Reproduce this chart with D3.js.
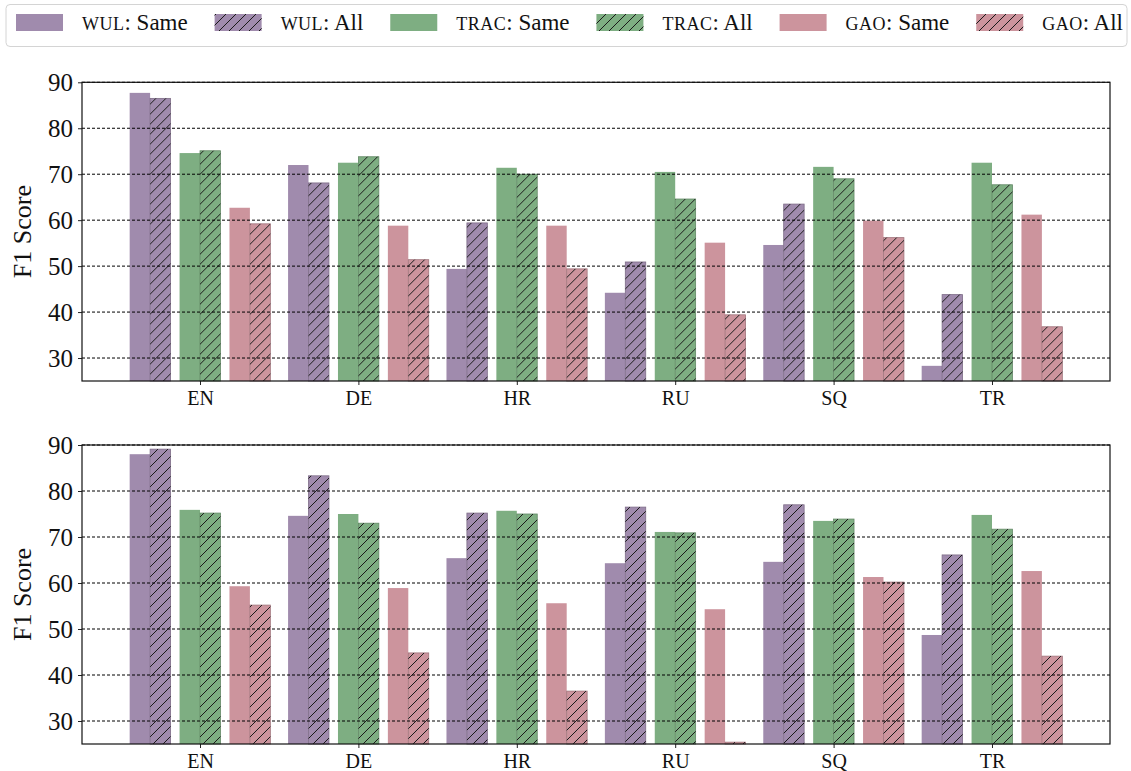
<!DOCTYPE html>
<meta charset="utf-8">
<style>
body { margin: 0; background: #fff; }
text { font-family: "Liberation Serif", serif; fill: #111; }
.axis path, .axis line { stroke: #222; }
.grid line { stroke: #000; stroke-dasharray: 3,2; stroke-width: 1; }
</style>
<svg width="1131" height="771"></svg>
<script src="https://d3js.org/d3.v7.min.js"></script>
<script>

// languages on the x axis
var languages = ["EN", "DE", "HR", "RU", "SQ", "TR"];
var yTicks = [30, 40, 50, 60, 70, 80, 90];

// upper panel
var wulSameTop   = [87.7, 72.0, 49.4, 44.2, 54.6, 28.3];
var wulAllTop    = [86.5, 68.1, 59.4, 50.9, 63.5, 43.8];
var tracSameTop  = [74.6, 72.5, 71.4, 70.5, 71.6, 72.5];
var tracAllTop   = [75.1, 73.8, 70.0, 64.6, 69.0, 67.7];
var gaoSameTop   = [62.7, 58.8, 58.8, 55.1, 59.9, 61.2];
var gaoAllTop    = [59.2, 51.4, 49.4, 39.4, 56.2, 36.8];

// lower panel
var wulSameBottom  = [88.0, 74.6, 65.4, 64.3, 64.6, 48.7];
var wulAllBottom   = [89.1, 83.3, 75.2, 76.5, 77.0, 66.1];
var tracSameBottom = [75.9, 75.0, 75.7, 71.1, 73.5, 74.8];
var tracAllBottom  = [75.2, 73.0, 75.0, 70.9, 73.9, 71.7];
var gaoSameBottom  = [59.3, 58.9, 55.6, 54.3, 61.3, 62.6];
var gaoAllBottom   = [55.2, 44.8, 36.5, 25.4, 60.2, 44.1];

var datasets = ["wul", "trac", "gao"];
var colors = {wul: "#a08bad", trac: "#7eae82", gao: "#cc949d"};

var svg = d3.select("svg"),
    left = 82, right = 1110,
    width = right - left;

// hatch pattern "//"
var hp = 10;
var defs = svg.append("defs");
defs.append("pattern")
    .attr("id", "hatch")
    .attr("patternUnits", "userSpaceOnUse")
    .attr("width", hp).attr("height", hp)
  .selectAll("path")
  .data(["M0," + hp + " L" + hp + ",0", "M-2,2 L2,-2", "M" + (hp - 2) + "," + (hp + 2) + " L" + (hp + 2) + "," + (hp - 2)])
  .enter().append("path")
    .attr("d", function(d) { return d; })
    .attr("stroke", "#1a1a1a")
    .attr("stroke-width", 1);

var x = d3.scaleLinear().domain([-0.745, 5.745]).range([0, width]);
var barW = 0.129, pairOff = 0.315;

function panel(top, bottom, series) {
  var height = bottom - top;
  var y = d3.scaleLinear().domain([25, 90]).range([height, 0]);
  var g = svg.append("g").attr("transform", "translate(" + left + "," + top + ")");

  var bars = [];
  datasets.forEach(function(ds, k) {
    series[ds + "Same"].forEach(function(v, i) {
      bars.push({ds: ds, hatch: false, x0: i + (k - 1) * pairOff - barW, v: v});
    });
    series[ds + "All"].forEach(function(v, i) {
      bars.push({ds: ds, hatch: true, x0: i + (k - 1) * pairOff, v: v});
    });
  });

  var bw = x(barW) - x(0);
  g.selectAll(".bar")
    .data(bars)
    .enter().append("rect")
      .attr("class", "bar")
      .attr("x", function(d) { return x(d.x0); })
      .attr("y", function(d) { return y(d.v); })
      .attr("width", bw)
      .attr("height", function(d) { return height - y(d.v); })
      .attr("fill", function(d) { return colors[d.ds]; })
      .attr("stroke", function(d) { return d.hatch ? d3.color(colors[d.ds]).darker(0.7) : "none"; })
      .attr("stroke-width", 0.8);

  g.selectAll(".hatchbar")
    .data(bars.filter(function(d) { return d.hatch; }))
    .enter().append("rect")
      .attr("x", function(d) { return x(d.x0); })
      .attr("y", function(d) { return y(d.v); })
      .attr("width", bw)
      .attr("height", function(d) { return height - y(d.v); })
      .attr("fill", "url(#hatch)");

  // dashed grid on top of the bars
  g.append("g")
      .attr("class", "grid")
    .selectAll("line")
    .data(yTicks)
    .enter().append("line")
      .attr("x1", 0).attr("x2", width)
      .attr("y1", function(d) { return y(d); })
      .attr("y2", function(d) { return y(d); });

  var yAxis = g.append("g")
      .attr("class", "axis")
      .call(d3.axisLeft(y).tickValues(yTicks).tickSize(4).tickPadding(5));
  yAxis.select(".domain").remove();
  yAxis.selectAll("text").style("font-size", "25px").attr("dy", "0.34em");

  var xAxis = g.append("g")
      .attr("class", "axis")
      .attr("transform", "translate(0," + height + ")")
      .call(d3.axisBottom(x).tickValues(d3.range(languages.length))
        .tickFormat(function(i) { return languages[i]; }).tickSize(4).tickPadding(6));
  xAxis.select(".domain").remove();
  xAxis.selectAll("text").style("font-size", "20px");

  g.append("rect")
      .attr("width", width).attr("height", height)
      .attr("fill", "none").attr("stroke", "#111").attr("stroke-width", 1.2);

  g.append("text")
      .attr("transform", "translate(-51," + height / 2 + ") rotate(-90)")
      .attr("text-anchor", "middle")
      .style("font-size", "26px")
      .text("F1 Score");
}

panel(82.3, 381, {
  wulSame: wulSameTop, wulAll: wulAllTop,
  tracSame: tracSameTop, tracAll: tracAllTop,
  gaoSame: gaoSameTop, gaoAll: gaoAllTop
});
panel(445, 744, {
  wulSame: wulSameBottom, wulAll: wulAllBottom,
  tracSame: tracSameBottom, tracAll: tracAllBottom,
  gaoSame: gaoSameBottom, gaoAll: gaoAllBottom
});

// legend
var legendItems = [];
datasets.forEach(function(ds) {
  legendItems.push({ds: ds, kind: "Same", hatch: false});
  legendItems.push({ds: ds, kind: "All", hatch: true});
});

var lg = svg.append("g");
lg.append("rect")
    .attr("x", 6).attr("y", 4.5).attr("width", 1121).attr("height", 42).attr("rx", 4)
    .attr("fill", "#fff").attr("stroke", "#d4d4d4").attr("stroke-width", 1);

var patchW = 47, patchH = 17, textPad = 19;
var items = lg.selectAll(".item").data(legendItems).enter().append("g");
var labels = items.append("text")
    .attr("y", 30)
    .style("font-size", "23px");
// dataset names set in small capitals
labels.append("tspan").style("font-size", "18px").style("letter-spacing", "0.5px")
    .text(function(d) { return d.ds.toUpperCase(); });
labels.append("tspan").text(function(d) { return ": " + d.kind; });

var widths = labels.nodes().map(function(n) { return n.getComputedTextLength(); });
var used = d3.sum(widths) + legendItems.length * (patchW + textPad);
var gap = (1123 - 16 - used) / (legendItems.length - 1);
var cx = 16;
items.each(function(d, i) {
  var item = d3.select(this);
  item.append("rect")
      .attr("x", cx).attr("y", 14).attr("width", patchW).attr("height", patchH)
      .attr("fill", colors[d.ds]);
  if (d.hatch) {
    item.append("rect")
        .attr("x", cx).attr("y", 14).attr("width", patchW).attr("height", patchH)
        .attr("fill", "url(#hatch)");
  }
  item.select("text").attr("x", cx + patchW + textPad);
  cx += patchW + textPad + widths[i] + gap;
});

</script>
